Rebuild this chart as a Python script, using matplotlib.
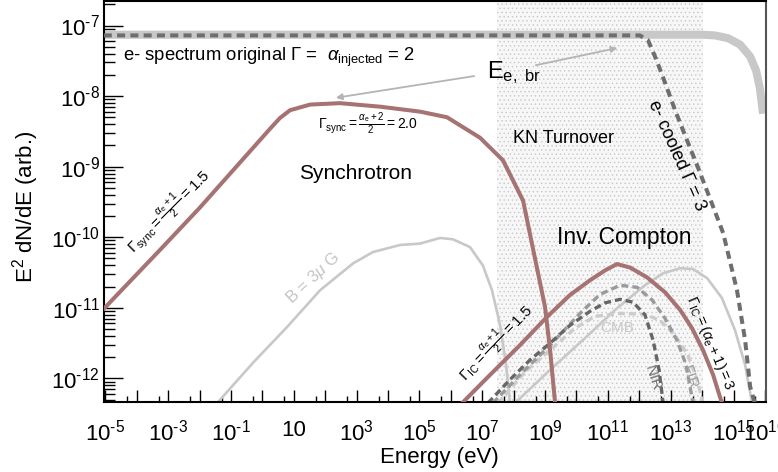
import numpy as np
import matplotlib.pyplot as plt
from matplotlib.ticker import FixedLocator, FixedFormatter, NullFormatter

plt.rcParams['font.family'] = ['Liberation Sans', 'DejaVu Sans']
plt.rcParams['mathtext.fontset'] = 'custom'
plt.rcParams['mathtext.rm'] = 'Liberation Sans'
plt.rcParams['mathtext.it'] = 'Liberation Sans:italic'
plt.rcParams['mathtext.bf'] = 'Liberation Sans:bold'
plt.rcParams['hatch.linewidth'] = 0.5
plt.rcParams['hatch.color'] = '#c8c8c8'

# all values are log10(E / eV) and log10(E^2 dN/dE)
orig_logE = [-5.05, 14.0, 14.41, 14.83, 15.21, 15.53, 15.72, 15.84, 15.94]
orig_logF = [-7.13, -7.13, -7.14, -7.18, -7.27, -7.44, -7.64, -7.89, -8.25]

cool_logE = [-5.05, 12.02, 12.28, 12.53, 12.82, 13.14, 13.46, 13.84, 14.25, 14.67, 15.11, 15.37, 15.53, 15.68]
cool_logF = [-7.14, -7.14, -7.21, -7.47, -7.81, -8.20, -8.56, -8.98, -9.45, -9.94, -10.75, -11.46, -12.12, -12.35]

sync_logE = [-5.04, -3.26, -1.99, -0.71, 0.25, 0.56, 0.88, 1.52, 2.47, 3.75, 5.02, 5.88, 6.93, 7.66, 8.30, 8.74, 9.00, 9.16, 9.25, 9.32]
sync_logF = [-11.01, -10.18, -9.58, -8.94, -8.46, -8.31, -8.20, -8.12, -8.10, -8.15, -8.22, -8.30, -8.59, -8.91, -9.48, -10.43, -10.99, -11.60, -12.02, -12.35]

ic_logE = [6.36, 7.25, 8.20, 9.06, 9.79, 10.43, 10.91, 11.29, 11.71, 12.25, 12.82, 13.30, 13.68, 14.03, 14.35, 14.63]
ic_logF = [-12.35, -11.95, -11.53, -11.13, -10.82, -10.61, -10.47, -10.38, -10.43, -10.57, -10.78, -11.03, -11.29, -11.60, -11.95, -12.35]

bsync_logE = [-1.44, -0.30, 0.79, 1.84, 2.89, 3.52, 4.38, 5.02, 5.66, 6.07, 6.61, 7.02, 7.31, 7.57, 7.76, 7.88]
bsync_logF = [-12.35, -11.78, -11.27, -10.75, -10.37, -10.21, -10.11, -10.09, -10.01, -10.03, -10.14, -10.40, -10.75, -11.25, -11.81, -12.35]

bic_logE = [8.04, 9.16, 10.27, 11.23, 12.18, 12.76, 13.30, 13.71, 14.16, 14.63, 15.05, 15.37, 15.59]
bic_logF = [-12.35, -11.88, -11.43, -11.03, -10.68, -10.51, -10.44, -10.45, -10.58, -10.86, -11.32, -11.81, -12.35]

nir_logE = [7.18, 7.88, 8.52, 9.16, 9.79, 10.43, 10.91, 11.39, 11.80, 12.18, 12.44, 12.63, 12.76]
nir_logF = [-12.35, -12.02, -11.74, -11.50, -11.25, -11.05, -10.93, -10.88, -10.92, -11.10, -11.46, -11.88, -12.35]

fir_logE = [7.34, 8.20, 9.16, 10.11, 10.75, 11.39, 11.93, 12.41, 12.82, 13.20, 13.49, 13.71]
fir_logF = [-12.35, -11.95, -11.53, -11.08, -10.81, -10.68, -10.71, -10.89, -11.15, -11.46, -11.81, -12.35]

cmb_logE = [7.50, 8.36, 9.16, 9.95, 10.59, 11.39, 12.18, 12.66, 13.14, 13.55, 13.84, 14.03]
cmb_logF = [-12.35, -11.91, -11.60, -11.29, -11.12, -11.08, -11.09, -11.18, -11.39, -11.67, -12.02, -12.35]

kn_logE = [7.47, 14.03]

xtick_exp = list(range(-5, 17))
xlabel_exp = [-5, -3, -1, 1, 3, 5, 7, 9, 11, 13, 15, 16]
ytick_exp = [-12, -11, -10, -9, -8, -7]

red = '#a67272'
lgray = '#c8c8c8'


def p(a):
    return 10.0 ** np.array(a)


def pow_label(e):
    # ROOT-like label: short hyphen in the exponent
    s = str(e).replace('-', '\u2010')
    return r'$10^{%s}$' % s


fig = plt.figure(figsize=(7.78, 4.72), dpi=100)
ax = fig.add_axes([0.1341, 0.1483, 0.8505, 0.8505])

# KN turnover band (stippled)
ax.axvspan(10 ** kn_logE[0], 10 ** kn_logE[1], facecolor='#f7f7f7', edgecolor='#c8c8c8',
           hatch='....', lw=0, zorder=0)

ax.plot(p(orig_logE), p(orig_logF), color=lgray, lw=5.8, solid_capstyle='butt', zorder=2)
ax.plot(p(cool_logE), p(cool_logF), color='#6e6e6e', lw=2.9, ls=(0, (2.0, 1.3)), zorder=3)

ax.plot(p(sync_logE), p(sync_logF), color=red, lw=2.9, zorder=3)
ax.plot(p(ic_logE), p(ic_logF), color=red, lw=2.9, zorder=3)
ax.plot(p(bsync_logE), p(bsync_logF), color=lgray, lw=1.9, zorder=2)
ax.plot(p(bic_logE), p(bic_logF), color=lgray, lw=1.9, zorder=2)
ax.plot(p(cmb_logE), p(cmb_logF), color='#cccccc', lw=2.4, ls=(0, (2.1, 1.2)), zorder=2)
ax.plot(p(fir_logE), p(fir_logF), color='#9a9a9a', lw=2.4, ls=(0, (2.1, 1.2)), zorder=2)
ax.plot(p(nir_logE), p(nir_logF), color='#666666', lw=2.4, ls=(0, (2.1, 1.2)), zorder=2)

ax.set_xscale('log')
ax.set_yscale('log')
ax.set_xlim(10 ** -5.032, 10 ** 16.035)
ax.set_ylim(10 ** -12.335, 10 ** -6.646)

# ticks, ROOT style
ax.xaxis.set_major_locator(FixedLocator(p(xtick_exp)))
xlabs = []
for e in xtick_exp:
    if e in xlabel_exp:
        xlabs.append('10' if e == 1 else pow_label(e))
    else:
        xlabs.append('')
ax.xaxis.set_major_formatter(FixedFormatter(xlabs))
ax.xaxis.set_minor_locator(FixedLocator(5 * p(xtick_exp[:-1])))
ax.xaxis.set_minor_formatter(NullFormatter())

ax.yaxis.set_major_locator(FixedLocator(p(ytick_exp)))
ax.yaxis.set_major_formatter(FixedFormatter([pow_label(e) for e in ytick_exp]))
ymin = [m * 10.0 ** e for e in range(-13, -6) for m in range(2, 10)]
ax.yaxis.set_minor_locator(FixedLocator(ymin))
ax.yaxis.set_minor_formatter(NullFormatter())

ax.tick_params(axis='x', which='major', direction='in', length=9, width=1.0, labelsize=16, pad=13)
ax.tick_params(axis='x', which='minor', direction='in', length=4.5, width=1.0)
ax.tick_params(axis='y', which='major', direction='in', length=14, width=1.0, labelsize=16, pad=3)
ax.tick_params(axis='y', which='minor', direction='in', length=8, width=1.0)
for s in ax.spines.values():
    s.set_linewidth(1.5)
ax.spines['right'].set_color('#555555')

ax.set_xlabel('Energy (eV)', fontsize=16)
ax.set_ylabel(r'E$^{2}$ dN/dE (arb.)', fontsize=16)
ax.xaxis.set_label_coords(0.507, -0.112)
ax.yaxis.set_label_coords(-0.095, 0.485)

# annotations
ax.text(10 ** -4.44, 10 ** -7.45, r'e- spectrum original $\Gamma$ =  $\alpha_{\rm injected}$ = 2',
        fontsize=13.3, ha='left', va='center')
ax.text(10 ** 7.15, 10 ** -7.66, r'E$_{\rm e,\ br}$', fontsize=17, ha='left', va='center')
ax.annotate('', xy=(10 ** 2.25, 10 ** -8.03), xytext=(10 ** 6.83, 10 ** -7.71),
            arrowprops=dict(arrowstyle='-|>', color='#b4b4b4', lw=1.3, mutation_scale=9))
ax.annotate('', xy=(10 ** 11.39, 10 ** -7.31), xytext=(10 ** 8.62, 10 ** -7.57),
            arrowprops=dict(arrowstyle='-|>', color='#b4b4b4', lw=1.3, mutation_scale=9))

ax.text(10 ** 9.6, 10 ** -8.6, 'KN Turnover', fontsize=13, ha='center', va='center')
ax.text(10 ** 2.98, 10 ** -9.09, 'Synchrotron', fontsize=15, ha='center', va='center')
ax.text(10 ** 11.51, 10 ** -10.01, 'Inv. Compton', fontsize=16.5, ha='center', va='center')
ax.text(10 ** 13.17, 10 ** -8.84, r'e- cooled $\Gamma$ = 3', fontsize=13, ha='center', va='center',
        rotation=-66, rotation_mode='anchor')

ax.text(10 ** -3.0, 10 ** -9.63, r'$\Gamma_{\rm sync}=\frac{\alpha_{\rm e}+1}{2}=1.5$', fontsize=11,
        ha='center', va='center', rotation=45, rotation_mode='anchor')
ax.text(10 ** 3.36, 10 ** -8.39, r'$\Gamma_{\rm sync}=\frac{\alpha_{\rm e}+2}{2}=2.0$', fontsize=10,
        ha='center', va='center')
ax.text(10 ** 1.61, 10 ** -10.58, r'B = 3$\mu$ G', fontsize=12, color='#c4c4c4',
        ha='center', va='center', rotation=43, rotation_mode='anchor')
ax.text(10 ** 7.44, 10 ** -11.49, r'$\Gamma_{\rm IC}=\frac{\alpha_{\rm e}+1}{2}=1.5$', fontsize=11,
        ha='center', va='center', rotation=46, rotation_mode='anchor')
ax.text(10 ** 14.25, 10 ** -11.5, r'$\Gamma_{\rm IC}=(\alpha_{\rm e}+1)=3$', fontsize=10.5,
        ha='center', va='center', rotation=-67, rotation_mode='anchor')
ax.text(10 ** 11.29, 10 ** -11.29, 'CMB', fontsize=11, color='#c8c8c8', ha='center', va='center')
ax.text(10 ** 12.44, 10 ** -12.0, 'NIR', fontsize=11, color='#6e6e6e', ha='center', va='center',
        rotation=-72, rotation_mode='anchor')
ax.text(10 ** 13.58, 10 ** -11.98, 'FIR', fontsize=11, color='#a0a0a0', ha='center', va='center',
        rotation=-72, rotation_mode='anchor')

fig.savefig('out.png', dpi=100)
